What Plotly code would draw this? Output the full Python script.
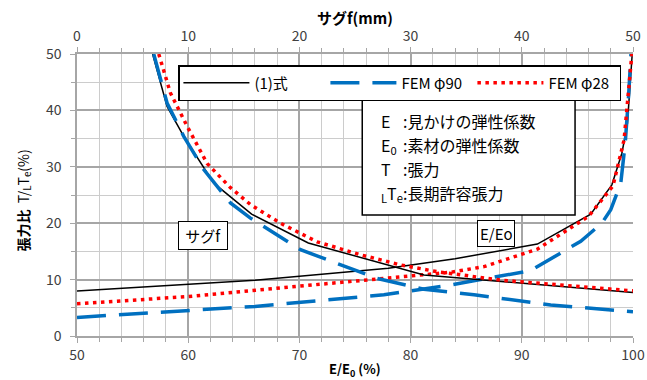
import plotly.graph_objects as go

# ---- data ----
# Tension ratio vs E/E0 (bottom axis)
e_formula = [50, 66, 78, 84, 91.4, 96.2, 98.1, 99.0, 99.5, 99.93]
t_formula_e = [8.0, 9.9, 12.0, 13.7, 16.3, 21.6, 26.8, 32.4, 37.7, 50]
e_fem90 = [50, 66, 77.6, 83.6, 90.8, 95.3, 97.2, 98.0, 98.9, 99.3, 99.6, 99.82]
t_fem90_e = [3.3, 5.25, 7.3, 9.05, 11.6, 16.8, 20.0, 22.4, 27.1, 34.2, 42.5, 50]
e_fem28 = [50, 60, 66.5, 75.8, 79.1, 83.6, 86.6, 91.4, 96.0, 98.2, 99.2, 99.6, 99.9]
t_fem28_e = [5.7, 7.0, 8.2, 9.9, 10.4, 11.3, 12.3, 15.4, 21.2, 26.6, 34.8, 43.7, 50]

# Tension ratio vs sag f (top axis)
f_formula = [6.8, 8.1, 9.6, 12.3, 15.7, 20.8, 31.2, 50]
t_formula_f = [50, 40.7, 35.4, 27.1, 21.6, 16.5, 10.8, 7.7]
f_fem90 = [6.9, 8.1, 9.6, 11.4, 13.8, 15.6, 20.1, 23.7, 27.0, 31.2, 35.7, 42.6, 50]
t_fem90_f = [50, 41.3, 35.4, 29.5, 23.6, 20.9, 15.3, 12.6, 10.2, 8.3, 7.3, 5.5, 4.3]
f_fem28 = [7.35, 8.4, 9.9, 11.7, 13.8, 15.6, 18.3, 21.6, 25.5, 29.1, 32.4, 38.1, 50]
t_fem28_f = [50, 43.1, 37.2, 30.6, 26.3, 23.3, 20.0, 16.7, 14.4, 12.6, 11.4, 9.9, 8.0]

series_names = ["(1)式", "FEM φ90", "FEM φ28"]
x_ticks_bottom = [50, 60, 70, 80, 90, 100]
x_ticks_top = [0, 10, 20, 30, 40, 50]
y_ticks = [0, 10, 20, 30, 40, 50]

# ---- layout geometry ----
W, H = 647, 380
L, R, T, B = 76.5, 14, 54, 44
pw, ph = W - L - R, H - T - B


def xp(px):
    return (px - L) / pw


def yp(py):
    return (H - B - py) / ph


FONT = "Noto Sans CJK JP"
BLACK = "#000000"
BLUE = "#0070C0"
RED = "#FF0000"

styles = {
    "(1)式": dict(color=BLACK, width=1.5, dash="solid"),
    "FEM φ90": dict(color=BLUE, width=3.5, dash="29px,13px"),
    "FEM φ28": dict(color=RED, width=3.5, dash="3.5px,4.5px"),
}

fig = go.Figure()
e_sets = [(e_formula, t_formula_e), (e_fem90, t_fem90_e), (e_fem28, t_fem28_e)]
f_sets = [(f_formula, t_formula_f), (f_fem90, t_fem90_f), (f_fem28, t_fem28_f)]

for name, (xe, ye), (xf, yf) in zip(series_names, e_sets, f_sets):
    fig.add_trace(go.Scatter(x=xe, y=ye, mode="lines", name=name,
                             line=styles[name], legendgroup=name,
                             xaxis="x", yaxis="y"))
    fig.add_trace(go.Scatter(x=xf, y=yf, mode="lines", name=name,
                             line=styles[name], legendgroup=name,
                             showlegend=False, xaxis="x2", yaxis="y"))

grid_major = "#a6a6a6"
grid_minor = "#cccccc"
tickfont = dict(family=FONT, size=14, color="#404040")

fig.update_layout(
    width=W, height=H,
    margin=dict(l=L, r=R, t=T, b=B, pad=0, autoexpand=False),
    paper_bgcolor="white", plot_bgcolor="white",
    font=dict(family=FONT, color="black"),
    xaxis=dict(range=[50, 100], tickvals=x_ticks_bottom, showgrid=True,
               gridcolor=grid_major, gridwidth=1.5, automargin=False,
               minor=dict(dtick=2, showgrid=True, gridcolor=grid_minor,
                          gridwidth=1.2, ticks="outside", ticklen=4,
                          tickcolor=grid_major),
               showline=True, linecolor=grid_major, linewidth=1.5,
               ticks="outside", ticklen=5, tickcolor=grid_major,
               tickfont=tickfont, zeroline=False),
    xaxis2=dict(range=[0, 50], tickvals=x_ticks_top, overlaying="x",
                side="top", anchor="y", showgrid=False, automargin=False,
                minor=dict(dtick=2, ticks="outside", ticklen=4,
                           tickcolor=grid_major),
                showline=True, linecolor=grid_major, linewidth=1.5,
                ticks="outside", ticklen=5, tickcolor=grid_major,
                ticklabelstandoff=1,
                tickfont=tickfont, zeroline=False),
    yaxis=dict(range=[0, 50], tickvals=y_ticks, showgrid=True,
               gridcolor=grid_major, gridwidth=1.5, automargin=False,
               minor=dict(dtick=5, showgrid=True, gridcolor=grid_minor,
                          gridwidth=1.2, ticks="outside", ticklen=4,
                          tickcolor=grid_major),
               showline=True, linecolor=grid_major, linewidth=1.5,
               ticks="outside", ticklen=5, tickcolor=grid_major,
               ticklabelstandoff=6,
               tickfont=tickfont, zeroline=False),
    showlegend=True,
    legend=dict(orientation="h", x=xp(178), y=yp(65), xanchor="left",
                yanchor="top", bgcolor="white", bordercolor="black",
                borderwidth=1.5, font=dict(family=FONT, size=15),
                itemwidth=66, entrywidth=66, tracegroupgap=0),
)


def label(px, py, text, size, **kw):
    d = dict(x=xp(px), y=yp(py), xref="paper", yref="paper", text=text,
             showarrow=False, xanchor="center", yanchor="middle",
             font=dict(family=FONT, size=size))
    d.update(kw)
    return d


annotations = [
    # axis titles
    label(355, 17, "<b>サグf(mm)</b>", 15),
    label(355, 369, "<b>E/E<sub>0</sub> (%)</b>", 13),
    label(23, 201, "<b>張力比</b>  T/<sub>L</sub>T<sub>e</sub>(%)", 14,
          textangle=-90),
    # curve labels
    label(203, 236, "\u00a0サグf\u00a0", 15, bgcolor="white",
          bordercolor="black", borderwidth=1, borderpad=3),
    label(495.5, 233.7, "E/Eo", 15, bgcolor="white", bordercolor="black",
          borderwidth=1, borderpad=2),
]
# symbol explanation box
labels = ["E", "E<sub>0</sub>", "T", "<sub>L</sub>T<sub>e</sub>"]
descs = [":見かけの弾性係数", ":素材の弾性係数", ":張力", ":長期許容張力"]
line_y = [123, 147, 171, 195]
for lab, desc, yy in zip(labels, descs, line_y):
    annotations.append(label(379, yy - 16, lab, 16, xanchor="left",
                             yanchor="top"))
    annotations.append(label(401, yy - 16, desc, 16, xanchor="left",
                             yanchor="top"))
fig.update_layout(annotations=annotations)

fig.add_shape(type="rect", xref="paper", yref="paper",
              x0=xp(362), x1=xp(575), y0=yp(215), y1=yp(100),
              line=dict(color="black", width=1.5), fillcolor="white",
              layer="above")
fig.write_html("out.html", config={"displayModeBar": False},
               post_script="document.body.style.margin='0';")
